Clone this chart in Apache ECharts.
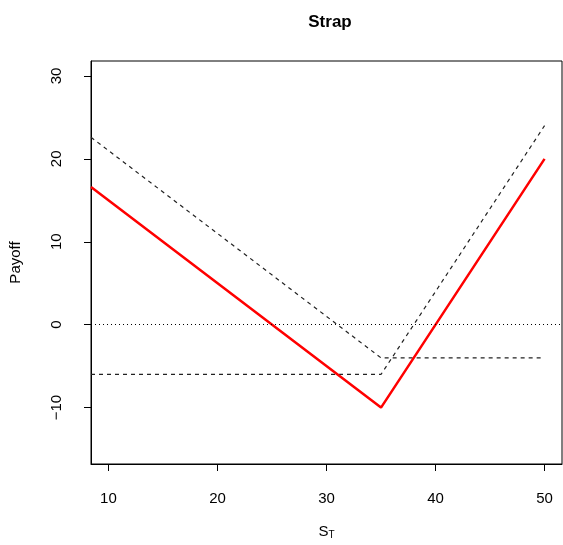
<!DOCTYPE html>
<html>
<head>
<meta charset="utf-8">
<script src="https://cdn.jsdelivr.net/npm/echarts@6/dist/echarts.min.js"></script>
<style>
  html, body { margin: 0; padding: 0; background: #fff; }
  #chart { width: 563px; height: 545px; }
</style>
</head>
<body>
<div id="chart"></div>
<script>
// stock price at expiry (left end is the plot edge)
const spot = [8.4, 35, 50];
// payoffs
const strapPayoff = [16.6, -10, 20];
const putPayoff = [22.6, -4, -4];
const callsPayoff = [-6, -6, 24];

const xTicks = [10, 20, 30, 40, 50];
const yTicks = [-10, 0, 10, 20, 30];

const pairs = (ys) => spot.map((s, i) => [s, ys[i]]);

const font = 'Liberation Sans, Arial, Helvetica, sans-serif';

const chart = echarts.init(document.getElementById('chart'));

chart.setOption({
    animation: false,
    title: {
        text: 'Strap',
        left: 325,
        textAlign: 'center',
        top: 9,
        textStyle: { fontFamily: font, fontSize: 17, fontWeight: 'bold', color: '#000' }
    },
    grid: { left: 88, right: 1, top: 61, bottom: 72, show: true, borderColor: '#000', borderWidth: 1 },
    xAxis: {
        type: 'value',
        min: 8.4,
        max: 51.6,
        splitLine: { show: false },
        axisLine: { show: true, onZero: false, lineStyle: { color: '#000', width: 1 } },
        axisTick: { show: true, length: 7, customValues: xTicks, lineStyle: { color: '#000' } },
        axisLabel: { customValues: xTicks, margin: 27, fontFamily: font, fontSize: 15, color: '#000' },
        name: '{s|S}{t|T}',
        nameLocation: 'middle',
        nameGap: 60,
        nameTextStyle: {
            rich: {
                s: { fontFamily: font, fontSize: 15, color: '#000' },
                t: { fontFamily: font, fontSize: 10, color: '#000', verticalAlign: 'bottom', padding: [6, 0, 0, 0] }
            }
        }
    },
    yAxis: {
        type: 'value',
        min: -16.8,
        max: 31.8,
        splitLine: { show: false },
        axisLine: { show: true, onZero: false, lineStyle: { color: '#000', width: 1 } },
        axisTick: { show: true, length: 7, customValues: yTicks, lineStyle: { color: '#000' } },
        axisLabel: { customValues: yTicks, rotate: 90, margin: 27, fontFamily: font, fontSize: 15, color: '#000',
            formatter: (v) => String(v).replace('-', '\u2212') },
        name: 'Payoff',
        nameLocation: 'middle',
        nameGap: 68,
        nameRotate: 90,
        nameTextStyle: { fontFamily: font, fontSize: 15, color: '#000' }
    },
    series: [
        {
            type: 'line',
            data: pairs(putPayoff),
            symbol: 'none',
            lineStyle: { color: '#222', width: 1.2, type: [4, 4] },
            markLine: {
                silent: true,
                symbol: 'none',
                label: { show: false },
                lineStyle: { color: '#000', width: 1, type: [1, 3] },
                data: [{ yAxis: 0 }]
            }
        },
        {
            type: 'line',
            data: pairs(callsPayoff),
            symbol: 'none',
            lineStyle: { color: '#222', width: 1.2, type: [4, 4] }
        },
        {
            type: 'line',
            data: pairs(strapPayoff),
            symbol: 'none',
            lineStyle: { color: '#ff0000', width: 2.5 }
        }
    ]
});
</script>
</body>
</html>
